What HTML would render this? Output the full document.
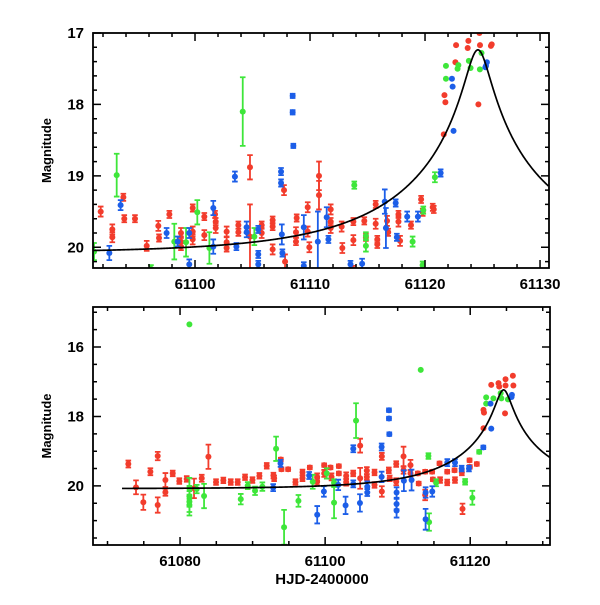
<!DOCTYPE html>
<html><head><meta charset="utf-8"><style>
html,body{margin:0;padding:0;background:#fff;}
svg text{font-family:"Liberation Sans",sans-serif;fill:#000;}
</style></head><body>
<svg id="chart" width="600" height="600" xmlns="http://www.w3.org/2000/svg"></svg>
<script>
// ---- data: [HJD-2400000, magnitude, error] ----
const topRed=[[61091.8,19.5,.07],[61092.81,19.75,.07],[61092.81,19.86,.07],[61093.77,19.3,.05],[61093.85,19.6,.05],[61094.78,19.6,.05],[61095.8,19.98,.07],[61096.81,19.7,.07],[61096.87,19.87,.05],[61097.77,19.54,.05],[61098.78,19.8,.07],[61098.78,19.92,.07],[61098.78,19.99,.05],[61099.8,19.45,.05],[61099.8,19.78,.07],[61099.8,19.89,.07],[61100.81,19.57,.05],[61100.81,19.83,.07],[61101.74,19.54,.05],[61101.8,19.64,.05],[61101.8,19.73,.07],[61102.75,19.78,.07],[61102.75,19.93,.07],[61102.75,20.01,.05],[61103.77,19.69,.05],[61103.77,19.79,.05],[61104.78,18.88,.17],[61104.78,19.85,.45],[61105.8,19.69,.05],[61105.8,19.8,.07],[61106.75,19.62,.05],[61106.75,19.71,.05],[61106.75,20.03,.07],[61107.74,19.2,.07],[61107.83,20.2,.1],[61108.78,19.79,.07],[61108.78,19.92,.05],[61108.84,19.59,.05],[61109.8,19.44,.07],[61109.8,19.78,.07],[61109.94,20.0,.07],[61110.78,19.27,.2],[61110.78,19.0,.2],[61111.8,19.47,.07],[61111.8,19.64,.05],[61111.8,19.73,.07],[61112.75,19.71,.07],[61112.81,20.01,.07],[61113.77,19.9,.07],[61113.77,19.64,.05],[61113.71,20.31,.05],[61114.72,19.63,.05],[61114.86,19.86,.05],[61115.71,19.4,.05],[61115.71,19.67,.07],[61115.85,19.89,.05],[61115.85,19.96,.05],[61116.7,19.63,.07],[61116.8,19.79,.05],[61117.69,19.54,.05],[61117.69,19.64,.07],[61117.83,19.91,.07],[61118.78,19.69,.05],[61119.66,19.33,.05],[61119.8,19.51,.05],[61120.67,19.44,.05],[61120.76,19.47,.05],[61121.63,18.42,0],[61121.77,17.97,0],[61121.69,17.87,0],[61122.64,17.41,0],[61122.7,17.17,0],[61123.71,17.21,0],[61123.77,17.11,0],[61124.73,17.0,0],[61124.78,17.17,0],[61124.64,18.0,0],[61125.73,17.18,0],[61125.8,17.16,0]];
const topGreen=[[61091.22,20.06,.12],[61093.19,18.99,.3],[61104.15,18.1,.48],[61098.2,19.92,.25],[61099.22,19.93,.2],[61100.2,19.51,.17],[61101.25,20.01,.22],[61105.16,19.85,.12],[61096.17,20.3,.05],[61113.85,19.13,.05],[61114.86,19.84,.05],[61114.86,19.98,.08],[61118.92,19.92,.07],[61119.79,20.25,.05],[61119.85,19.48,.05],[61120.86,19.02,.07],[61121.82,17.46,0],[61121.82,17.64,0],[61122.83,17.5,0],[61122.9,17.45,0],[61123.81,17.39,0],[61123.96,17.49,0],[61124.77,17.51,0],[61124.91,17.28,0]];
const topBlue=[[61092.55,20.08,.1],[61093.53,19.41,.07],[61097.53,19.8,.07],[61098.49,19.92,.07],[61099.5,20.24,.07],[61099.5,19.8,.07],[61101.59,19.45,.1],[61101.59,19.99,.1],[61103.47,19.01,.07],[61103.6,19.99,.05],[61104.49,19.72,.08],[61104.49,19.79,.07],[61105.5,19.75,.05],[61105.5,20.1,.05],[61105.5,20.24,.05],[61107.48,18.94,.05],[61107.48,19.1,.05],[61107.55,19.82,.14],[61107.6,20.08,.05],[61108.49,17.88,.03],[61108.49,18.11,.03],[61108.55,18.58,.03],[61109.46,19.72,.17],[61109.46,20.26,.05],[61110.68,19.92,.42],[61111.45,19.58,.14],[61111.6,19.89,.05],[61113.52,20.24,.05],[61114.53,20.23,.07],[61116.5,19.36,.17],[61116.6,19.73,.28],[61117.45,19.38,.05],[61117.55,19.86,.05],[61118.45,19.57,.07],[61119.38,19.57,.07],[61121.36,18.96,.05],[61122.34,17.64,0],[61122.4,17.75,0],[61122.48,18.37,0],[61125.38,17.41,0],[61125.3,17.46,0],[61125.25,17.48,0]];
const botRed=[[61072.87,19.37,.1],[61073.93,20.04,.2],[61074.94,20.47,.22],[61075.91,19.59,.1],[61076.92,19.14,.12],[61076.92,20.55,.22],[61077.98,19.83,.2],[61077.98,20.18,.1],[61078.99,19.64,.08],[61079.9,19.86,.08],[61080.92,19.8,.08],[61081.93,20.07,.28],[61082.99,19.78,.1],[61083.91,19.16,.35],[61084.96,19.89,.08],[61085.97,19.84,.08],[61086.99,19.89,.08],[61087.95,19.89,.08],[61088.96,19.75,.08],[61089.98,19.83,.08],[61090.94,19.71,.08],[61091.95,19.42,.08],[61092.87,19.7,.08],[61092.97,19.78,.08],[61093.89,19.24,.05],[61093.98,19.52,.05],[61094.9,19.52,.05],[61095.91,19.89,.08],[61096.88,19.61,.08],[61096.88,19.78,.08],[61097.89,19.47,.05],[61098.9,19.74,.1],[61098.9,19.88,.1],[61099.87,19.4,.05],[61099.87,19.64,.1],[61100.74,19.47,.05],[61100.88,19.74,.1],[61101.89,19.43,.05],[61101.89,19.64,.05],[61102.9,19.71,.1],[61102.9,19.89,.1],[61103.87,19.64,.08],[61104.83,18.84,.2],[61104.83,19.78,.3],[61105.75,19.56,.1],[61105.75,19.74,.08],[61106.81,19.61,.08],[61106.81,19.97,.08],[61107.82,19.15,.1],[61107.82,20.16,.15],[61108.78,19.55,.08],[61108.9,19.78,.08],[61109.8,19.37,.08],[61109.8,19.88,.1],[61110.81,19.15,.28],[61110.81,19.55,.1],[61111.77,19.4,.15],[61111.77,19.64,.1],[61112.78,19.64,.05],[61112.9,19.93,.05],[61113.79,19.59,.05],[61113.79,20.26,.15],[61114.75,19.59,.05],[61114.85,19.81,.05],[61115.77,19.35,.05],[61115.85,19.83,.08],[61116.83,19.59,.05],[61116.83,19.9,.08],[61117.84,19.55,.05],[61117.9,19.83,.08],[61118.85,19.61,.08],[61118.94,20.66,.15],[61119.91,19.26,.05],[61119.95,19.45,.05],[61120.91,19.37,.05],[61121.83,18.34,0],[61121.83,17.81,0],[61121.9,17.89,0],[61122.9,17.09,0],[61123.9,17.04,0],[61124.0,17.14,0],[61124.87,16.93,0],[61124.87,17.11,0],[61124.8,17.91,0],[61125.88,16.83,0],[61125.95,17.11,0]];
const botGreen=[[61081.29,15.35,0],[61081.29,20.07,.3],[61081.29,20.3,.3],[61081.29,20.45,.3],[61081.29,20.55,.3],[61082.3,20.09,.12],[61083.31,20.29,.35],[61088.37,20.38,.15],[61089.33,19.99,.1],[61090.34,20.14,.12],[61091.35,20.02,.12],[61093.24,18.93,.35],[61094.34,21.19,.5],[61096.32,20.43,.17],[61098.29,19.88,.2],[61100.22,19.64,.15],[61101.23,19.91,.1],[61101.23,20.48,.45],[61104.26,18.12,.5],[61113.18,16.66,0],[61114.24,19.14,.08],[61114.33,21.04,.25],[61115.3,19.91,.1],[61119.3,19.88,.08],[61120.3,20.34,.2],[61121.24,19.02,.05],[61122.2,17.45,0],[61122.2,17.63,0],[61123.2,17.48,0],[61124.2,17.33,0],[61124.3,17.48,0],[61125.2,17.51,0]];
const botBlue=[[61092.84,20.05,.1],[61093.85,19.35,.1],[61097.8,19.7,.1],[61098.91,20.83,.25],[61099.83,20.16,.15],[61101.81,19.97,.15],[61102.82,20.56,.25],[61103.88,18.93,.1],[61103.88,19.94,.1],[61104.8,20.49,.25],[61105.81,20.02,.15],[61105.81,20.19,.1],[61107.79,18.88,.1],[61107.79,19.74,.15],[61108.8,17.82,.05],[61108.8,18.06,.05],[61108.85,18.51,.05],[61109.85,20.19,.15],[61109.85,20.52,.15],[61109.85,20.71,.2],[61110.86,19.85,.3],[61111.92,19.83,.3],[61113.85,20.19,.15],[61113.85,20.96,.3],[61114.77,20.16,.15],[61116.84,19.33,.1],[61117.9,19.33,.1],[61118.82,19.5,.08],[61119.83,19.5,.08],[61121.81,18.89,.05],[61122.8,17.63,0],[61122.9,18.35,0],[61125.7,17.44,0],[61125.75,17.38,0]];
const model={t0:61124.6,u0:0.073,tE:13.7,base:20.08};
const topXTicks=[61100,61110,61120,61130];
const topYTicks=[17,18,19,20];
const botXTicks=[61080,61100,61120];
const botYTicks=[16,18,20];

const NS="http://www.w3.org/2000/svg";
const svg=document.getElementById('chart');
const COL={red:'#f23c2c',green:'#3ee63a',blue:'#1c5ee8'};
function el(tag,attrs,parent){const e=document.createElementNS(NS,tag);for(const k in attrs)e.setAttribute(k,attrs[k]);(parent||svg).appendChild(e);return e;}
function modelMag(t){const u=Math.sqrt(model.u0*model.u0+Math.pow((t-model.t0)/model.tE,2));const A=(u*u+2)/(u*Math.sqrt(u*u+4));return model.base-2.5*Math.log10(A);}

function panel(name,box,xr,yr,xMajor,xMinorStep,yMajor,yMinorStep,series,modelStart){
  const g=el('g',{});
  
  
  const X=t=>box.x+(t-xr[0])/(xr[1]-xr[0])*box.w;
  const Y=m=>box.y+(m-yr[0])/(yr[1]-yr[0])*box.h;
  const clip=el('clipPath',{id:name+'-clip'},g);
  el('rect',{x:box.x,y:box.y,width:box.w,height:box.h},clip);
  const dg=el('g',{'clip-path':'url(#'+name+'-clip)'},g);
  
  
  for(const s of series){
    const sg=el('g',{fill:COL[s.c],stroke:COL[s.c]},dg);
    
    
    for(const p of s.d){
      const x=X(p[0]),y=Y(p[1]);
      if(p[2]>0){const y1=Y(p[1]-p[2]),y2=Y(p[1]+p[2]);
        el('path',{d:`M${x},${y1}V${y2}M${x-2.8},${y1}h5.6M${x-2.8},${y2}h5.6`,'stroke-width':1.8,fill:'none'},sg);}
      const c=el('circle',{cx:x,cy:y,r:3,stroke:'none'},sg);
      
      
    }
  }
  let d='';
  for(let t=modelStart;t<=xr[1];t+=0.05){d+=(d?'L':'M')+X(t).toFixed(2)+','+Y(modelMag(t)).toFixed(2);}
  const ml=el('path',{d:d,fill:'none',stroke:'#000','stroke-width':1.7},dg);
  
  
  const fr=el('rect',{x:box.x,y:box.y,width:box.w,height:box.h,fill:'none',stroke:'#000','stroke-width':1.8},g);
  
  
  let td='';
  const t0=Math.ceil(xr[0]/xMinorStep)*xMinorStep;
  for(let t=t0;t<=xr[1];t+=xMinorStep){const x=X(t);const L=xMajor.some(v=>Math.abs(v-t)<1e-6)?8:4;td+=`M${x},${box.y+box.h}v${-L}M${x},${box.y}v${L}`;}
  const m0=Math.ceil(yr[0]/yMinorStep-1e-9)*yMinorStep;
  for(let m=m0;m<=yr[1]+1e-9;m+=yMinorStep){const y=Y(m);const L=yMajor.some(v=>Math.abs(v-m)<1e-6)?8:4;td+=`M${box.x},${y}h${L}M${box.x+box.w},${y}h${-L}`;}
  el('path',{d:td,stroke:'#000','stroke-width':1.5,fill:'none'},g);
  for(const v of xMajor){const tx=el('text',{x:X(v),y:box.y+box.h+21,'text-anchor':'middle','font-size':15,'font-weight':'bold'},g);tx.textContent=v;
    
    }
  for(const v of yMajor){const tx=el('text',{x:box.x-9,y:Y(v)+5,'text-anchor':'end','font-size':15,'font-weight':'bold'},g);tx.textContent=v;
    
    }
  const yl=el('text',{x:0,y:0,'text-anchor':'middle','font-size':13,'font-weight':'bold',transform:`translate(${box.x-42},${box.y+box.h/2}) rotate(-90)`},g);
  yl.textContent='Magnitude';
  
  
  return {X,Y};
}
panel('top-panel',{x:93,y:33,w:456,h:235},[61091.13,61130.78],[17,20.29],topXTicks,2,topYTicks,0.2,
  [{c:'red',d:topRed},{c:'green',d:topGreen},{c:'blue',d:topBlue}],61091.13);
panel('bottom-panel',{x:93,y:307,w:457,h:238},[61068,61131],[14.85,21.7],botXTicks,5,botYTicks,0.5,
  [{c:'red',d:botRed},{c:'green',d:botGreen},{c:'blue',d:botBlue}],61072);
const xl=el('text',{x:322,y:584,'text-anchor':'middle','font-size':15,'font-weight':'bold'});
xl.textContent='HJD-2400000';


</script>
</body></html>
